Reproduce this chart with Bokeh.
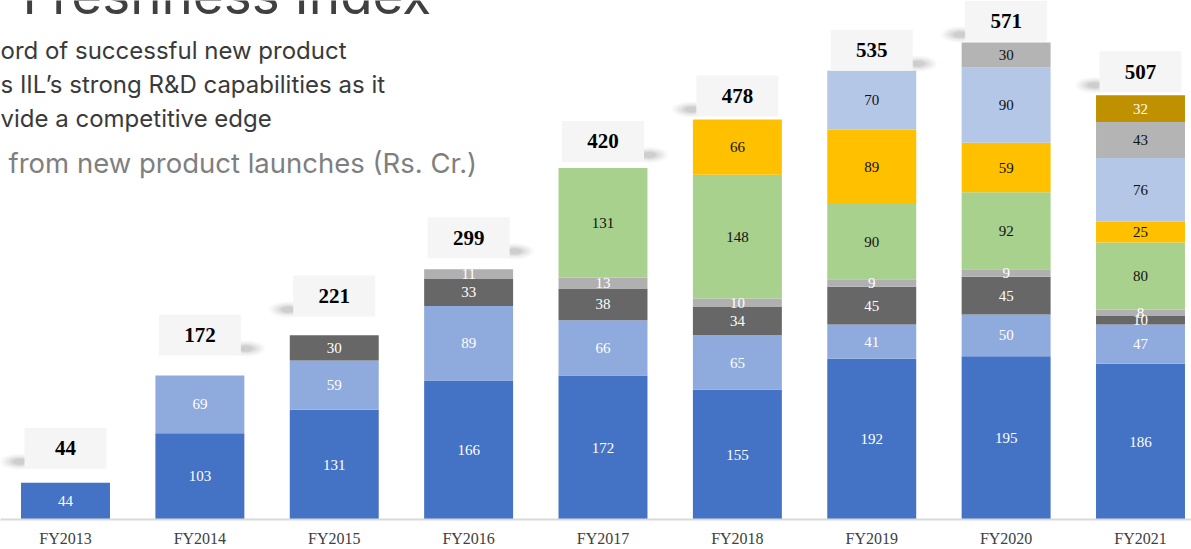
from bokeh.plotting import figure
from bokeh.models import ColumnDataSource, Range1d, FixedTicker, Label
from bokeh.core.properties import value
from bokeh.embed import file_html
from bokeh.resources import INLINE

# ---------------- data ----------------
years = ["FY2013", "FY2014", "FY2015", "FY2016", "FY2017", "FY2018", "FY2019", "FY2020", "FY2021"]
s1 = [44, 103, 131, 166, 172, 155, 192, 195, 186]
s2 = [0, 69, 59, 89, 66, 65, 41, 50, 47]
s3 = [0, 0, 30, 33, 38, 34, 45, 45, 10]
s4 = [0, 0, 0, 11, 13, 10, 9, 9, 8]
s5 = [0, 0, 0, 0, 131, 148, 90, 92, 80]
s6 = [0, 0, 0, 0, 0, 66, 89, 59, 25]
s7 = [0, 0, 0, 0, 0, 0, 70, 90, 76]
s8 = [0, 0, 0, 0, 0, 0, 0, 30, 43]
s9 = [0, 0, 0, 0, 0, 0, 0, 0, 32]
totals = [44, 172, 221, 299, 420, 478, 535, 571, 507]

series = [s1, s2, s3, s4, s5, s6, s7, s8, s9]
names = ["s1", "s2", "s3", "s4", "s5", "s6", "s7", "s8", "s9"]

# ---------------- styles / layout ----------------
colors = ["#4472C4", "#8FAADC", "#676767", "#B0B0B0", "#A9D18E",
          "#FFC000", "#B4C7E7", "#B4B4B4", "#BF9000"]
label_colors = ["#FFFFFF", "#FFFFFF", "#FFFFFF", "#FFFFFF", "#111111",
                "#111111", "#111111", "#111111", "#FFFFFF"]
box_gap_px = [14, 20, 18, 11, 6, 3, 1, 0, 3]
shadow_side = [-1, 1, -1, 1, 1, -1, 1, -1, -1]

XS = 134.375          # px per category
X0 = -65 / XS
FW = 1191
FH = 519
Y_END = FH / 0.837
SCALE = FH / Y_END    # px per unit
BOX_W, BOX_H = 82, 41


def px_x(page_x):
    return X0 + page_x / XS


def px_y(page_y):
    return (FH - page_y) / SCALE


p = figure(frame_width=FW, frame_height=FH,
           x_range=Range1d(X0, X0 + FW / XS), y_range=Range1d(0, Y_END),
           output_backend="svg", toolbar_location=None, y_axis_location=None,
           min_border=0)
p.outline_line_color = None
p.background_fill_color = "white"
p.border_fill_color = "white"
p.xgrid.visible = False
p.ygrid.visible = False

xs = list(range(len(years)))
data = {"x": xs}
for n, s in zip(names, series):
    data[n] = s
src = ColumnDataSource(data)
p.vbar_stack(names, x="x", width=0.662, fill_color=colors, line_color=None, source=src)

# segment labels
lx, ly, lt, lc = [], [], [], []
for k, s in enumerate(series):
    for i, v in enumerate(s):
        if v > 0:
            base = sum(series[j][i] for j in range(k))
            lx.append(i)
            ly.append(base + v / 2)
            lt.append(str(v))
            lc.append(label_colors[k])
p.text(x="x", y="y", text="t", text_color="c",
       source=ColumnDataSource(dict(x=lx, y=ly, t=lt, c=lc)),
       text_align="center", text_baseline="middle",
       text_font=value("Liberation Serif"), text_font_size="15px")

# total boxes with soft shadows
box_y = [t + (g + BOX_H / 2) / SCALE for t, g in zip(totals, box_gap_px)]
sh_x = [i + sd * (BOX_W / 2 + 5) / XS for i, sd in zip(xs, shadow_side)]
sh_y = [t + (g + 7) / SCALE for t, g in zip(totals, box_gap_px)]
for w, h, a in [(38, 16, 0.04), (32, 13, 0.05), (26, 10, 0.06), (20, 8, 0.07), (14, 6, 0.08)]:
    p.ellipse(x=sh_x, y=sh_y, width=w, height=h, width_units="screen",
              height_units="screen", fill_color="#505050", fill_alpha=a,
              line_color=None)
p.rect(x=xs, y=box_y, width=BOX_W, height=BOX_H, width_units="screen",
       height_units="screen", fill_color="#F4F5F4", line_color=None)
p.text(x=xs, y=box_y, text=[str(t) for t in totals], text_align="center",
       text_baseline="middle", text_font=value("Liberation Serif"),
       text_font_style="bold", text_font_size="21px", text_color="#000000")

# x axis
p.xaxis.ticker = FixedTicker(ticks=xs)
p.xaxis.major_label_overrides = {i: y for i, y in zip(xs, years)}
p.xaxis.axis_line_color = "#D9D9D9"
p.xaxis.axis_line_width = 2
p.xaxis.major_tick_line_color = None
p.xaxis.minor_tick_line_color = None
p.xaxis.major_tick_out = 0
p.xaxis.major_tick_in = 0
p.xaxis.minor_tick_out = 0
p.xaxis.minor_tick_in = 0
p.xaxis.major_label_text_font = "Liberation Serif"
p.xaxis.major_label_text_font_size = "16px"
p.xaxis.major_label_text_color = "#404040"
p.xaxis.major_label_standoff = 10

# header texts (baseline positions corrected for the renderer's offset)
def base_y(page_y, size):
    return px_y(page_y - 0.36 * size)


p.add_layout(Label(x=px_x(22), y=base_y(14, 53), text="Freshness Index",
                   text_font="Inter", text_font_size="53px",
                   text_color="#404040", text_baseline="alphabetic"))
for txt, yy in [("ord of successful new product", 59),
                ("s IIL\u2019s strong R&D capabilities as it", 93),
                ("vide a competitive edge", 127)]:
    p.add_layout(Label(x=px_x(0), y=base_y(yy, 24), text=txt, text_font="Inter",
                       text_font_size="24px", text_color="#3A3A3A",
                       text_baseline="alphabetic"))
p.add_layout(Label(x=px_x(8), y=base_y(172, 27.5), text="from new product launches (Rs. Cr.)",
                   text_font="Inter", text_font_size="27.5px",
                   text_color="#7F7F7F", text_baseline="alphabetic"))

open("out.html", "w").write(file_html(p, INLINE))
